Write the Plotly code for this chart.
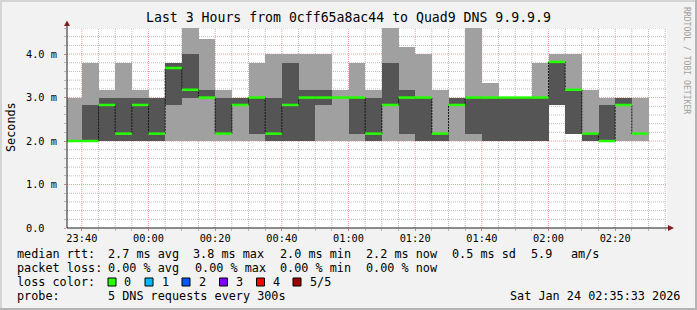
import plotly.graph_objects as go
import pandas as pd

# ---------------- data ----------------
# each sample covers the 300 s ending at bucket_end
bucket_end = pd.date_range("2026-01-23 23:40", "2026-01-24 02:30", freq="5min")
ping_min = [2.0, 2.0, 2.0, 2.0, 2.0, 2.0, 2.0, 2.0, 2.0, 2.0, 2.0, 2.0, 2.0, 2.0, 2.0, 2.0, 2.0, 2.0,
            2.0, 2.0, 2.0, 2.0, 2.0, 2.0, 2.0, 2.0, 2.0, 2.0, 2.0, 2.83, 2.17, 2.0, 2.0, 2.0, 2.0]
ping_q2 = [2.0, 2.0, 2.0, 2.0, 2.0, 2.0, 2.83, 3.0, 3.0, 2.17, 2.83, 2.17, 2.0, 2.0, 2.0, 2.83, 3.0, 2.17,
           2.0, 2.83, 2.17, 2.0, 2.0, 2.83, 2.17, 2.0, 2.0, 2.0, 2.0, 2.83, 2.17, 2.0, 2.0, 2.83, 2.17]
median = [2.0, 2.0, 2.83, 2.17, 2.83, 2.17, 3.68, 3.18, 3.0, 2.17, 2.83, 3.0, 2.17, 2.83, 3.0, 3.0, 3.0, 3.0,
          2.17, 2.83, 3.0, 3.0, 2.17, 2.83, 3.0, 3.0, 3.0, 3.0, 3.0, 3.82, 3.18, 2.17, 2.0, 2.83, 2.17]
ping_q4 = [2.0, 2.83, 3.0, 3.0, 3.0, 3.0, 3.8, 4.0, 3.18, 3.0, 3.0, 3.0, 3.0, 3.8, 3.18, 3.18, 3.0, 3.0,
           3.0, 3.8, 3.18, 3.0, 2.17, 3.0, 3.0, 3.0, 3.0, 3.0, 3.0, 3.82, 3.18, 2.17, 2.83, 3.0, 2.17]
ping_max = [3.0, 3.8, 3.18, 3.8, 3.18, 3.0, 3.8, 4.6, 4.35, 3.18, 3.0, 3.8, 4.0, 4.0, 4.0, 4.0, 3.18, 3.8,
            3.18, 4.6, 4.17, 4.0, 3.18, 3.0, 4.6, 3.34, 3.0, 3.0, 3.8, 4.0, 4.0, 3.18, 3.0, 3.0, 3.0]

x_start = "2026-01-23 23:35:33"
x_end = "2026-01-24 02:35:33"
y_max = 4.6
y_tick_vals = [0, 1, 2, 3, 4]
y_tick_text = ["0.0\u00a0\u00a0", "1.0 m", "2.0 m", "3.0 m", "4.0 m"]
x_tick_vals = pd.date_range("2026-01-23 23:40", "2026-01-24 02:20", freq="20min")
x_tick_text = [t.strftime("%H:%M") for t in x_tick_vals]
x_minor_vals = pd.date_range("2026-01-23 23:40", "2026-01-24 02:35", freq="5min")
y_minor_vals = [round(0.2 * i, 1) for i in range(1, 24)]

title = "Last 3 Hours from 0cff65a8ac44 to Quad9 DNS 9.9.9.9"
rtt_stats = ["2.7 ms avg", "3.8 ms max", "2.0 ms min", "2.2 ms now", "0.5 ms sd", "5.9", "am/s"]
loss_stats = ["0.00 % avg", "0.00 % max", "0.00 % min", "0.00 % now"]
loss_labels = ["0", "1", "2", "3", "4", "5/5"]
loss_colors = ["#26ff00", "#00b8ff", "#0059ff", "#7e00ff", "#ff0000", "#a10000"]
probe_text = "5 DNS requests every 300s"
stamp_text = "Sat Jan 24 02:35:33 2026"

# ---------------- geometry helpers ----------------
W, H = 697, 310
L, R, T, B = 67, 667, 28, 228
def px2x(px):
    return (px - L) / (R - L)
def py2y(py):
    return (B - py) / (B - T)

FONT = "DejaVu Sans Mono"
LIGHT = "#a0a0a0"
DARK = "#555555"
GRID = "rgba(143,143,143,0.6)"
MGRID = "rgba(222,79,79,0.55)"

step = pd.Timedelta(seconds=300)
starts = bucket_end - step
centers = bucket_end - step / 2

fig = go.Figure()
fig.add_trace(go.Bar(
    x=centers, base=ping_min, y=[hi - lo for hi, lo in zip(ping_max, ping_min)],
    width=300000, marker=dict(color=LIGHT, line=dict(width=0)), hoverinfo="skip"))
fig.add_trace(go.Bar(
    x=centers, base=ping_q2, y=[hi - lo for hi, lo in zip(ping_q4, ping_q2)],
    width=300000, marker=dict(color=DARK, line=dict(width=0)), hoverinfo="skip"))
# median step line (dark, dotted look), then loss-coloured segments
fig.add_trace(go.Scatter(
    x=list(starts) + [bucket_end[-1]], y=median + [median[-1]],
    mode="lines", line=dict(shape="hv", color="#141414", width=1, dash="2px,1px"), hoverinfo="skip"))
gx, gy = [], []
for s, e, m in zip(starts, bucket_end, median):
    gx += [s, e, None]
    gy += [m, m, None]
fig.add_trace(go.Scatter(x=gx, y=gy, mode="lines",
                         line=dict(color=loss_colors[0], width=2.5), hoverinfo="skip"))

shapes = []
# grid (under the smoke)
major_set = set(x_tick_vals)
for t in x_minor_vals:
    col = MGRID if t in major_set else GRID
    shapes.append(dict(type="line", xref="x", yref="paper", x0=t, x1=t, y0=0, y1=1,
                       line=dict(color=col, width=1, dash="1px,1px"), layer="below"))
for v in y_minor_vals:
    col = MGRID if abs(v - round(v)) < 1e-9 else GRID
    shapes.append(dict(type="line", xref="paper", yref="y", x0=0, x1=1, y0=v, y1=v,
                       line=dict(color=col, width=1, dash="1px,1px"), layer="below"))
# axes with arrows
shapes.append(dict(type="line", xref="paper", yref="paper", x0=0, x1=px2x(669), y0=0, y1=0,
                   line=dict(color="#1f1f1f", width=1)))
shapes.append(dict(type="line", xref="paper", yref="paper", x0=0, x1=0, y0=0, y1=py2y(25),
                   line=dict(color="#1f1f1f", width=1)))
shapes.append(dict(type="path", xref="paper", yref="paper",
                   path=f"M {px2x(668)} {py2y(225)} L {px2x(674)} {py2y(228)} L {px2x(668)} {py2y(231)} Z",
                   fillcolor="#801f1f", line=dict(width=0)))
shapes.append(dict(type="path", xref="paper", yref="paper",
                   path=f"M {px2x(64)} {py2y(26)} L {px2x(67)} {py2y(20.5)} L {px2x(70)} {py2y(26)} Z",
                   fillcolor="#801f1f", line=dict(width=0)))
# image bevel border
for (x0, y0, x1, y1, c) in [(0, 0, W, 2, "#d4d4d4"), (0, 0, 2, H, "#d4d4d4"),
                            (0, H - 2, W, H, "#b4b4b4"), (W - 2, 0, W, H, "#b4b4b4")]:
    shapes.append(dict(type="rect", xref="paper", yref="paper", x0=px2x(x0), x1=px2x(x1),
                       y0=py2y(y0), y1=py2y(y1), fillcolor=c, line=dict(width=0), layer="above"))
# loss colour boxes
box_x = [108, 145, 182, 219.5, 256.5, 293]
for bx, c in zip(box_x, loss_colors):
    shapes.append(dict(type="rect", xref="paper", yref="paper", x0=px2x(bx), x1=px2x(bx + 8),
                       y0=py2y(278), y1=py2y(286), fillcolor=c, line=dict(color="#000", width=1)))

ann = []
def text(t, px, py, size=11.8, anchor="left", color="#000", angle=0):
    ann.append(dict(text=t, xref="paper", yref="paper", x=px2x(px), y=py2y(py), xanchor=anchor,
                    yanchor="middle", showarrow=False, textangle=angle, borderpad=0,
                    font=dict(family=FONT, size=size, color=color)))

text(title, 348.5, 18, size=13.2, anchor="center")
text("Seconds", 10.5, 127.5, angle=-90, anchor="center")
text("RRDTOOL / TOBI OETIKER", 687, 60, size=8.1, anchor="center", color="#a0a0a0", angle=90)
text("median rtt:", 15.5, 254)
for s, px in zip(rtt_stats, [106.5, 192, 278.5, 364.5, 450.5, 529.5, 569.5]):
    text(s, px, 254)
text("packet loss:", 15.5, 268)
for s, px in zip(loss_stats, [106.5, 193.5, 278.5, 364.5]):
    text(s, px, 268)
text("loss color:", 15.5, 282)
for s, px in zip(loss_labels, [123, 160.5, 197.5, 234.5, 271.5, 308.5]):
    text(s, px, 282)
text("probe:", 15.5, 296)
text(probe_text, 106.5, 296)
text(stamp_text, 680.5, 296, anchor="right")

fig.update_layout(
    width=W, height=H, margin=dict(l=L, r=W - R, t=T, b=H - B),
    paper_bgcolor="#f2f2f2", plot_bgcolor="#ffffff", showlegend=False,
    barmode="overlay", bargap=0, shapes=shapes, annotations=ann,
    xaxis=dict(type="date", range=[x_start, x_end], tickvals=list(x_tick_vals), ticktext=x_tick_text,
               ticks="outside", ticklen=2, tickcolor=MGRID, showgrid=False, zeroline=False,
               showline=False, tickfont=dict(family=FONT, size=10.3, color="#000"),
               ticklabelstandoff=-1,
               minor=dict(tickvals=list(x_minor_vals), ticks="outside", ticklen=2, tickcolor=GRID,
                          showgrid=False)),
    yaxis=dict(range=[0, y_max], tickvals=y_tick_vals, ticktext=y_tick_text,
               ticks="outside", ticklen=2, tickcolor=MGRID, showgrid=False, zeroline=False,
               showline=False, tickfont=dict(family=FONT, size=10.3, color="#000"),
               ticklabelstandoff=5,
               minor=dict(tickvals=y_minor_vals, ticks="outside", ticklen=2, tickcolor=GRID,
                          showgrid=False)),
)
fig.write_html("out.html")
